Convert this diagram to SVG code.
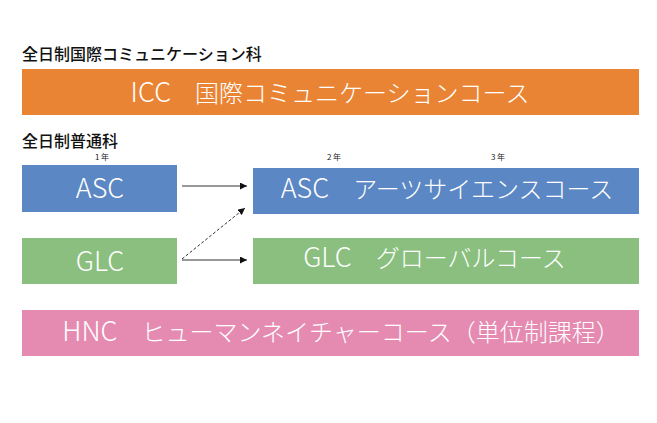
<svg xmlns="http://www.w3.org/2000/svg" width="657" height="423" viewBox="0 0 657 423">
<style>
  .hdr{font-family:"Noto Sans CJK JP","Noto Sans",sans-serif;font-size:16px;font-weight:500;fill:#111}
  .yr{font-family:"Noto Sans CJK JP","Noto Sans",sans-serif;font-size:8px;fill:#222;text-anchor:middle}
  .lbl{font-family:"Noto Sans CJK JP","Noto Sans",sans-serif;font-size:24px;font-weight:300;fill:#fff;text-anchor:middle}
  .lat{font-size:27px}
  .orange{fill:#EA8435}
  .blue{fill:#5B87C4}
  .green{fill:#8ABF80}
  .pink{fill:#E58BB1}
  .conn{stroke:#333;stroke-width:1;fill:none}
  .dash{stroke-dasharray:3 2}
</style>
<defs>
  <marker id="ah" viewBox="0 0 10 10" refX="10" refY="5" markerWidth="7" markerHeight="7" markerUnits="userSpaceOnUse" orient="auto">
    <path d="M0,0 L10,5 L0,10 z" fill="#111"/>
  </marker>
</defs>
<rect width="657" height="423" fill="#fff"/>
<text class="hdr" x="22" y="60">全日制国際コミュニケーション科</text>
<text class="hdr" x="22" y="147">全日制普通科</text>
<text class="yr" x="102" y="160">1 年</text>
<text class="yr" x="334" y="160">2 年</text>
<text class="yr" x="498" y="160">3 年</text>

<g id="icc">
  <rect class="orange" x="22" y="69" width="617" height="46"/>
  <text class="lbl" x="330" y="101.5"><tspan class="lat">ICC</tspan>　国際コミュニケーションコース</text>
</g>
<g id="asc1">
  <rect class="blue" x="22" y="165" width="155" height="47"/>
  <text class="lbl" x="100" y="198"><tspan class="lat">ASC</tspan></text>
</g>
<g id="glc1">
  <rect class="green" x="22" y="238" width="155" height="46"/>
  <text class="lbl" x="100" y="270.5"><tspan class="lat">GLC</tspan></text>
</g>
<g id="asc2">
  <rect class="blue" x="253" y="168" width="386" height="46"/>
  <text class="lbl" x="447" y="198"><tspan class="lat">ASC</tspan>　アーツサイエンスコース</text>
</g>
<g id="glc2">
  <rect class="green" x="253" y="238" width="386" height="46"/>
  <text class="lbl" x="434.5" y="267"><tspan class="lat">GLC</tspan>　グローバルコース</text>
</g>
<g id="hnc">
  <rect class="pink" x="22" y="310" width="617" height="46"/>
  <text class="lbl" x="341" y="341"><tspan class="lat">HNC</tspan>　ヒューマンネイチャーコース（単位制課程）</text>
</g>
<g id="connectors">
  <line class="conn" x1="182" y1="186" x2="247" y2="186" marker-end="url(#ah)"/>
  <line class="conn" x1="182" y1="260" x2="247" y2="260" marker-end="url(#ah)"/>
  <line class="conn dash" x1="182" y1="259" x2="245" y2="208" marker-end="url(#ah)"/>
</g>
</svg>
